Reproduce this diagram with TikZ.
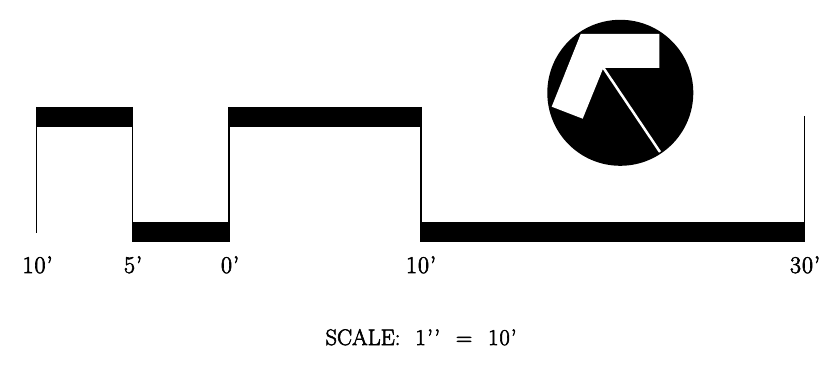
\documentclass[tikz,border=0pt]{standalone}
\usepackage{tikz}
\usepackage{fontspec}
\newfontfamily\scalefont{Latin Modern Roman}[FakeBold=2.5,LetterSpace=4]
\newfontfamily\titlefont{Latin Modern Roman}[FakeBold=2.5]

\begin{document}
\begin{tikzpicture}[x=1pt,y=-1pt,
  bar/.style={fill=black,draw=none},
  post/.style={draw=black,line width=1.7pt},
  scale label/.style={font=\scalefont\fontsize{24}{24}\selectfont,anchor=base,inner sep=0pt},
  title label/.style={font=\titlefont\fontsize{22.5}{24}\selectfont,anchor=base,inner sep=0pt}]

  \useasboundingbox (0,0) rectangle (830,371);

  % bars of the scale
  \path[bar] (36,107) rectangle (133,127);
  \path[bar] (229,107) rectangle (421,127);
  \path[bar] (133,222) rectangle (229,242);
  \path[bar] (421,222) rectangle (805,242);

  % vertical lines
  \draw[post] (36.5,107) -- (36.5,233);
  \draw[post] (132.5,107) -- (132.5,242);
  \draw[post] (229,107) -- (229,242);
  \draw[post] (421,107) -- (421,242);
  \draw[post] (804.5,116) -- (804.5,242);

  % north arrow
  \fill[black] (620.3,92.8) circle (73);
  \fill[white] (580.7,34) -- (659.3,34) -- (659.3,68) -- (603.3,68)
    -- (582.7,118.7) -- (551.7,106.7) -- cycle;
  \draw[white,line width=2.5pt] (603.5,68) -- (660,152);

  \node[scale label] (ten left) at (37.5,273) {10’};
  \node[scale label] (five) at (133,273) {5’};
  \node[scale label] (zero) at (230,273) {0’};
  \node[scale label] (ten right) at (421,273) {10’};
  \node[scale label] (thirty) at (805,273) {30’};
  \node[title label] (title) at (421,345) {SCALE:\kern15pt 1\kern1.5pt’\kern1.5pt’\kern16pt =\kern16pt 1\kern1pt 0\kern1pt’};
\end{tikzpicture}
\end{document}
